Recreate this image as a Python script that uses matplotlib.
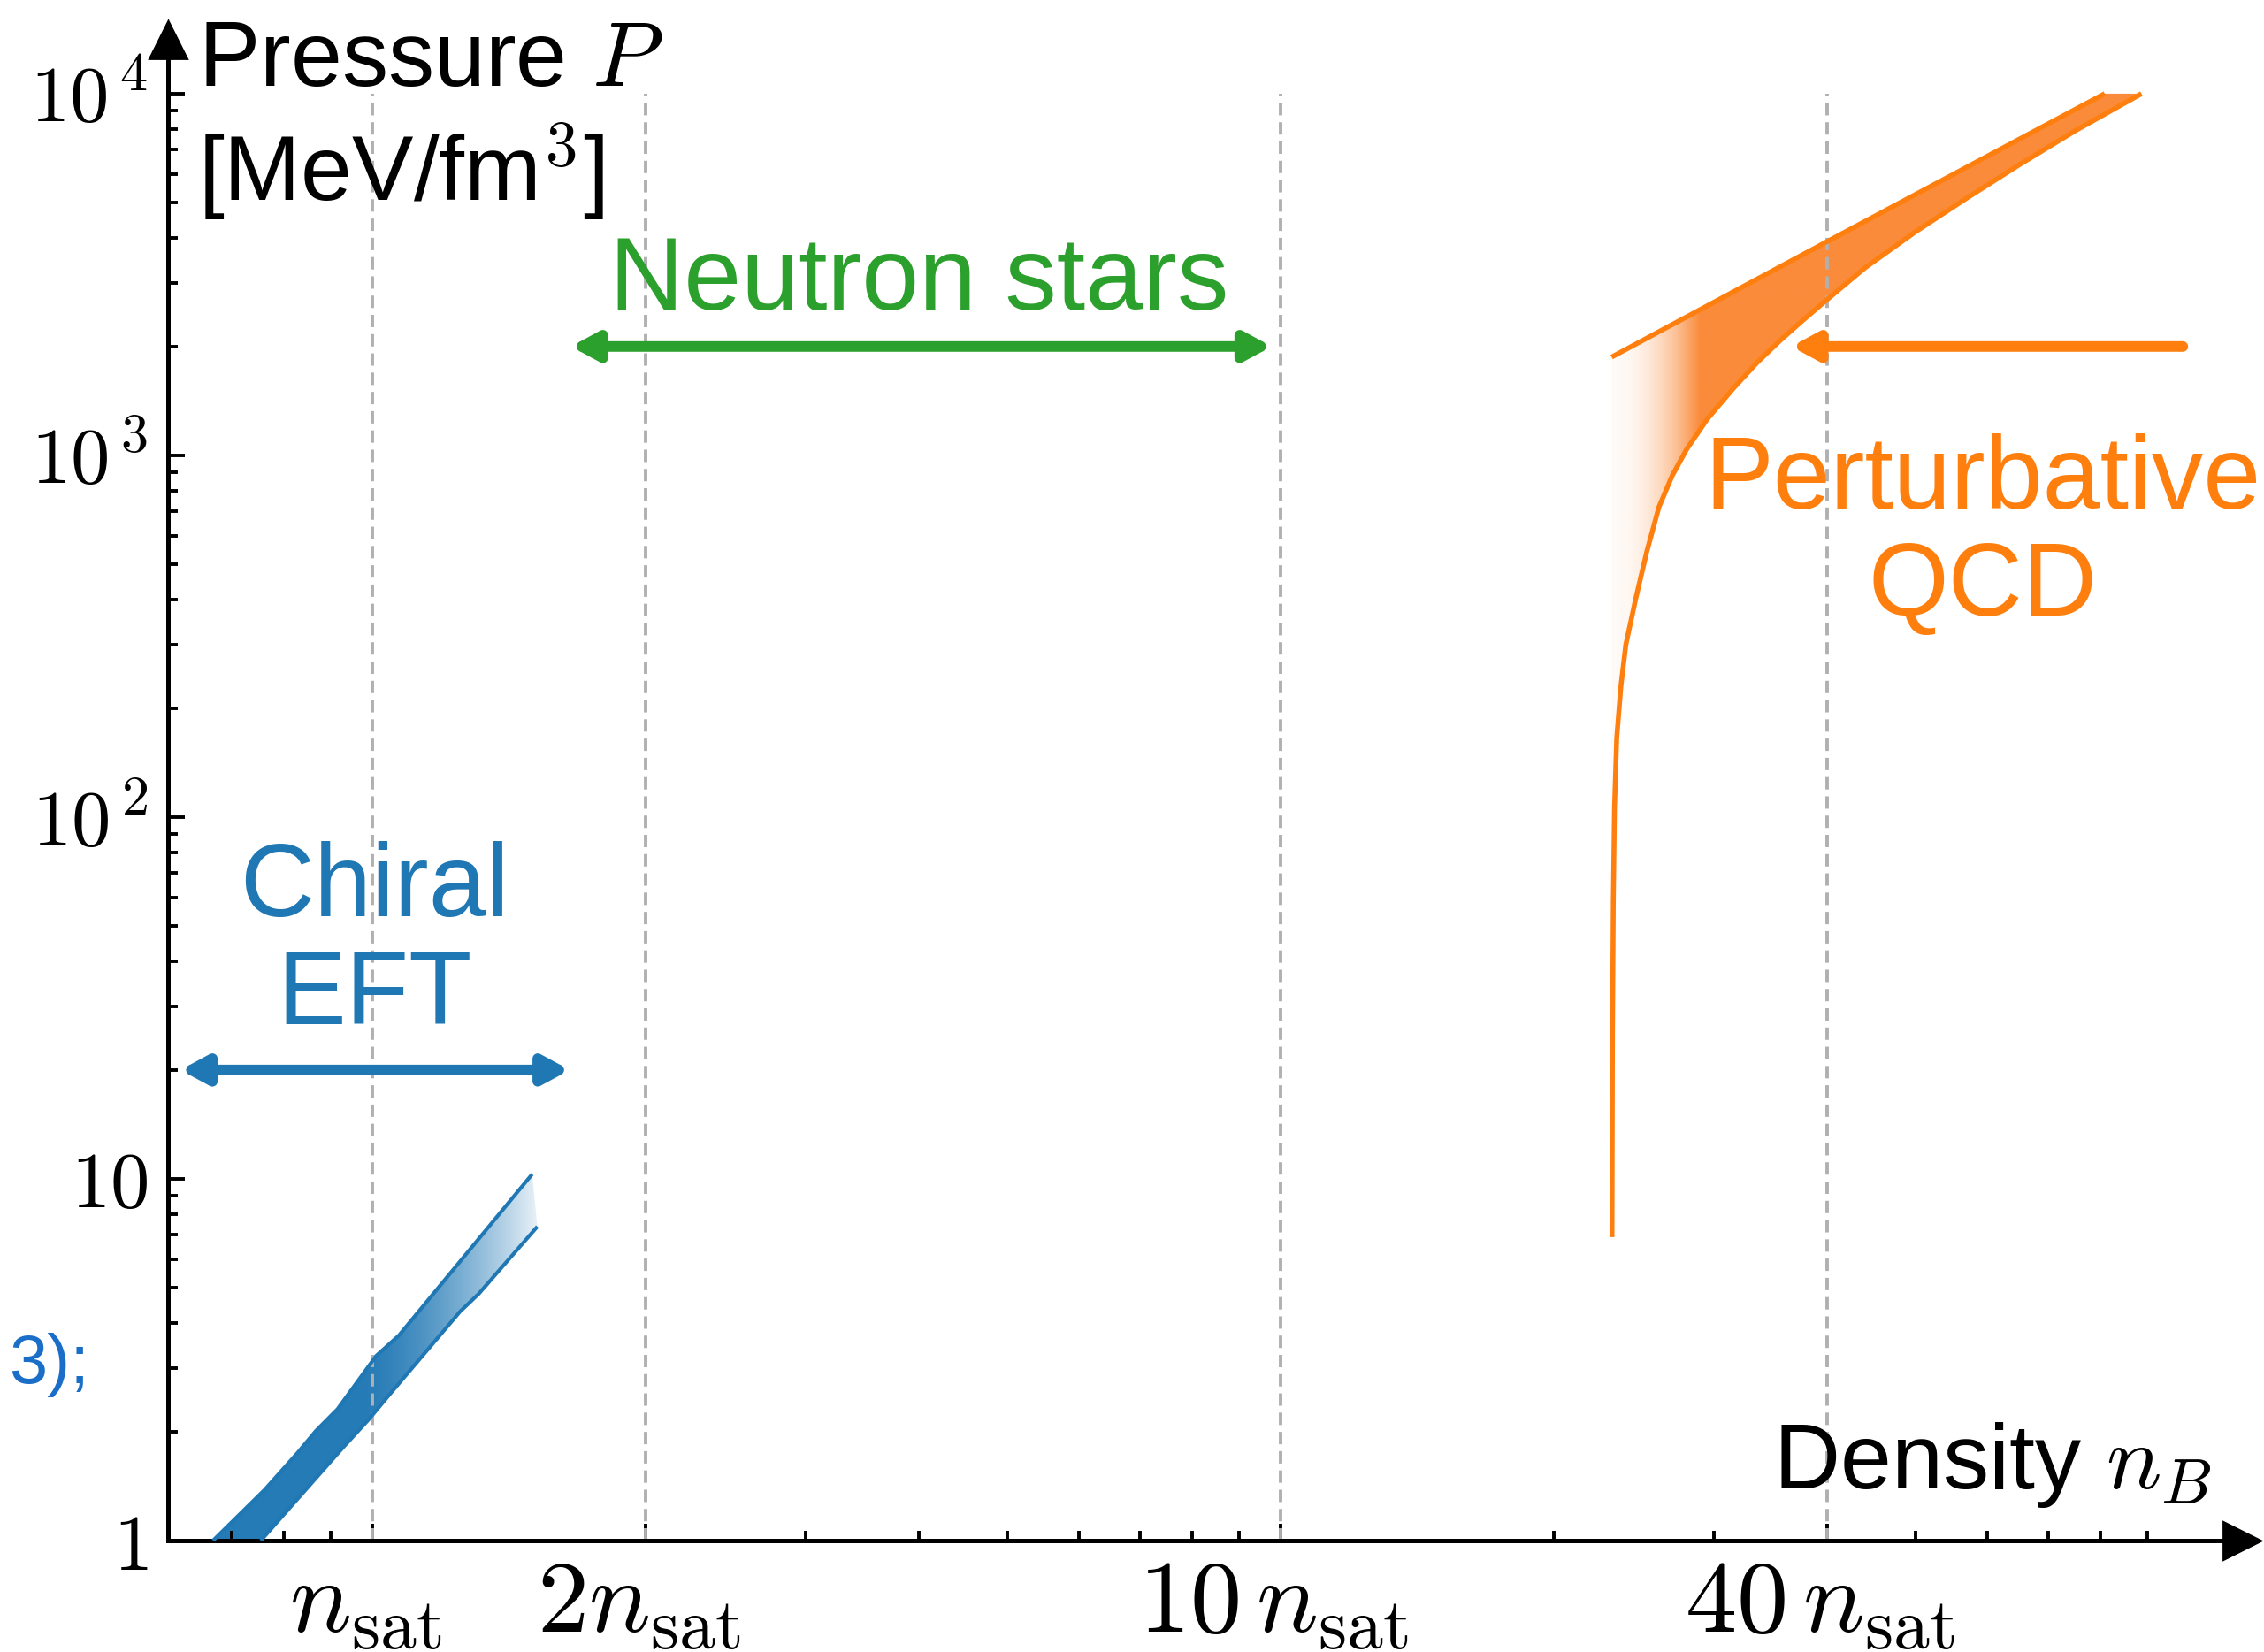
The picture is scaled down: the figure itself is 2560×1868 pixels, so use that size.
import numpy as np
import matplotlib
matplotlib.use("Agg")
import matplotlib.pyplot as plt
from matplotlib.patches import Polygon, FancyArrowPatch
from matplotlib.ticker import FixedLocator, FixedFormatter, NullFormatter
from matplotlib.transforms import ScaledTranslation

plt.rcParams['font.family'] = ['Liberation Sans', 'DejaVu Sans']
plt.rcParams['mathtext.fontset'] = 'cm'

# ---------------- data ----------------
# density in units of n_sat, pressure in MeV/fm^3
chiral_upper_n = [0.668, 0.761, 0.828, 0.867, 0.916, 1.01, 1.07, 1.50]
chiral_upper_P = [1.0, 1.38, 1.75, 2.01, 2.31, 3.24, 3.69, 10.3]
chiral_lower_n = [0.754, 0.929, 0.991, 1.043, 1.25, 1.31, 1.52]
chiral_lower_P = [1.0, 1.81, 2.16, 2.52, 4.30, 4.81, 7.38]

pqcd_upper_n = [23.15, 40.2, 80.8]
pqcd_upper_P = [1870, 3930, 10000]
pqcd_lower_n = [23.17, 23.20, 23.25, 23.32, 23.45, 23.7, 24.0, 24.6, 25.3, 26.1,
                27.0, 28.0, 29.5, 31.5, 33.5, 35.5, 37.5, 40.0, 44.0, 50.0,
                57.0, 65.0, 75.0, 88.7]
pqcd_lower_P = [6.9, 25, 59, 106, 165, 230, 300, 400, 540, 720,
                880, 1040, 1260, 1530, 1810, 2080, 2350, 2700, 3300, 4150,
                5150, 6350, 7900, 10000]

dashed_x = [1, 2, 10, 40]
xtick_vals = [1, 2, 10, 40]
xtick_labels = [r'$n_\mathrm{sat}$', r'$2n_\mathrm{sat}$', r'$10\,n_\mathrm{sat}$', r'$40\,n_\mathrm{sat}$']
xminor_vals = [0.7, 0.8, 0.9, 3, 4, 5, 6, 7, 8, 9, 20, 30, 50, 60, 70, 80, 90]
ytick_vals = [1, 10, 100, 1000, 10000]
ytick_labels = [r'$1$', r'$10$', r'$10^{\,2}$', r'$10^{\,3}$', r'$10^{\,4}$']
yminor_vals = [m * 10 ** e for e in range(4) for m in range(2, 10)]

chiral_arrow = (0.615, 1.65, 20)       # x0, x1, P
ns_arrow = (1.655, 9.78, 2000)
pqcd_arrow = (98.5, 36.5, 2000)

BLUE = '#1f77b4'
ORANGE = '#ff7f0e'
GREEN = '#2ca02c'

# ---------------- figure ----------------
fig = plt.figure(figsize=(12.8, 9.34), dpi=200)
ax = fig.add_axes([0.07422, 0.06745, 0.91601, 0.90846])
ax.set_xscale('log')
ax.set_yscale('log')
XLIM = (0.596, 114.4)
YLIM = (1, 14090)


def gradient_band(xs, ys, x0, x1, y0, y1, colfunc, zorder):
    poly = Polygon(np.column_stack([xs, ys]), closed=True, fc='none', ec='none',
                   transform=ax.transData)
    ax.add_patch(poly)
    N = 500
    xc = np.linspace(x0, x1, N)
    rgb = np.array([colfunc(np.log10(v)) for v in xc])
    img = np.ones((2, N, 4))
    img[:, :, :3] = rgb[None, :, :]
    im = ax.imshow(img, extent=[x0, x1, y0, y1], origin='lower', aspect='auto',
                   interpolation='bilinear', zorder=zorder)
    im.set_clip_path(poly)
    return im


def chiral_col(lx):
    base = np.array([31, 119, 180]) / 255.
    t = np.clip((lx + 0.013) / 0.195, 0, 1)
    a = 0.97 - 0.87 * t ** 1.5
    return a * base + (1 - a) * np.ones(3)


def pqcd_col(lx):
    base = np.array([250, 139, 59]) / 255.
    t = np.clip((lx - 1.3645) / 0.0955, 0, 1)
    w = 0.04 + 0.96 * t ** 2
    return w * base + (1 - w) * np.ones(3)


# chiral EFT band
cx = chiral_upper_n + chiral_lower_n[::-1]
cy = chiral_upper_P + chiral_lower_P[::-1]
gradient_band(cx, cy, 0.6, 1.6, 0.9, 12, chiral_col, 1)
ax.plot(chiral_upper_n, chiral_upper_P, color=BLUE, lw=1.5, zorder=3, solid_capstyle='butt')
ax.plot(chiral_lower_n, chiral_lower_P, color=BLUE, lw=1.5, zorder=3, solid_capstyle='butt')

# pQCD band
px = pqcd_upper_n + [pqcd_lower_n[-1]] + pqcd_lower_n[::-1][1:] + [pqcd_upper_n[0]]
py = pqcd_upper_P + [pqcd_lower_P[-1]] + pqcd_lower_P[::-1][1:] + [pqcd_lower_P[0]]
gradient_band(px, py, 22.5, 92, 5, 11000, pqcd_col, 1)
ax.plot(pqcd_upper_n, pqcd_upper_P, color=ORANGE, lw=2.0, zorder=3, solid_capstyle='butt')
ax.plot(pqcd_lower_n, pqcd_lower_P, color=ORANGE, lw=2.0, zorder=3, solid_capstyle='butt')

# dashed reference lines
for xv in dashed_x:
    ax.plot([xv, xv], [1, 1e4], color='#b0b0b0', lw=1.4, ls=(0, (3.6, 2.0)), zorder=2)


def arrow(x0, x1, y, color, style):
    ar = FancyArrowPatch((x0, y), (x1, y), arrowstyle=style, mutation_scale=10,
                         lw=4.3, color=color, capstyle='round', joinstyle='round',
                         shrinkA=0, shrinkB=0, transform=ax.transData, zorder=6)
    ax.add_patch(ar)


st2 = '<|-|>,head_length=0.85,head_width=0.46'
st1 = '-|>,head_length=0.85,head_width=0.46'
arrow(chiral_arrow[0], chiral_arrow[1], chiral_arrow[2], BLUE, st2)
arrow(ns_arrow[0], ns_arrow[1], ns_arrow[2], GREEN, st2)
arrow(pqcd_arrow[0], pqcd_arrow[1], pqcd_arrow[2], ORANGE, st1)

# region labels
FS = 42
ax.text(4.0, 2530, 'Neutron stars', color=GREEN, fontsize=FS, ha='center', va='baseline', zorder=7)
ax.text(1.005, 53.2, 'Chiral', color=BLUE, fontsize=FS, ha='center', va='baseline', zorder=7)
ax.text(1.005, 26.8, 'EFT', color=BLUE, fontsize=FS, ha='center', va='baseline', zorder=7)
ax.text(59.3, 713, 'Perturbative', color=ORANGE, fontsize=FS, ha='center', va='baseline', zorder=7)
ax.text(59.3, 361, 'QCD', color=ORANGE, fontsize=FS, ha='center', va='baseline', zorder=7)

# axes styling
ax.set_xlim(*XLIM)
ax.set_ylim(*YLIM)
for s in ['top', 'right']:
    ax.spines[s].set_visible(False)
for s in ['left', 'bottom']:
    ax.spines[s].set_linewidth(1.8)
ax.xaxis.set_major_locator(FixedLocator(xtick_vals))
ax.xaxis.set_major_formatter(FixedFormatter(xtick_labels))
ax.xaxis.set_minor_locator(FixedLocator(xminor_vals))
ax.xaxis.set_minor_formatter(NullFormatter())
ax.yaxis.set_major_locator(FixedLocator(ytick_vals))
ax.yaxis.set_major_formatter(FixedFormatter(ytick_labels))
ax.yaxis.set_minor_locator(FixedLocator(yminor_vals))
ax.yaxis.set_minor_formatter(NullFormatter())
ax.tick_params(which='both', direction='in', top=False, right=False, width=1.4)
ax.tick_params(which='major', length=7)
ax.tick_params(which='minor', length=4)
ax.tick_params(axis='x', which='major', labelsize=42, pad=7)
ax.tick_params(axis='y', which='major', labelsize=32, pad=8)
shift = ScaledTranslation(-8 / 200, 0, fig.dpi_scale_trans)
for tk in ax.xaxis.get_major_ticks():
    tk.label1.set_transform(tk.label1.get_transform() + shift)
ax.plot([1], [0], marker='>', ms=15, color='k', transform=ax.transAxes, clip_on=False, zorder=8)
ax.plot([0], [1], marker='^', ms=15, color='k', transform=ax.transAxes, clip_on=False, zorder=8)

# axis labels
fig.text(0.0876, 0.948, 'Pressure $P$', fontsize=37.5, ha='left', va='baseline')
fig.text(0.0874, 0.8785, '[MeV/fm$^3$]', fontsize=37.5, ha='left', va='baseline')
fig.text(0.977, 0.099, 'Density $n_B$', fontsize=37.5, ha='right', va='baseline')
fig.text(0.0040, 0.1625, '3);', fontsize=28, color='#1a6ec7', ha='left', va='baseline')

fig.savefig('out.png', dpi=200)
